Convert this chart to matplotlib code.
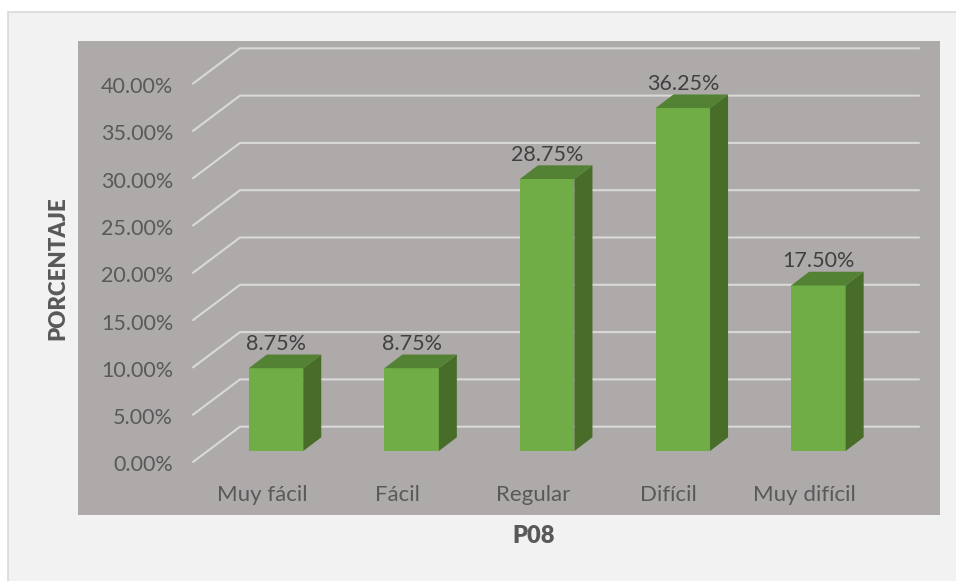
import matplotlib
matplotlib.use('Agg')
import matplotlib.pyplot as plt
from matplotlib.patches import Polygon, Rectangle
from matplotlib.transforms import ScaledTranslation

categories = ['Muy fácil', 'Fácil', 'Regular', 'Difícil', 'Muy difícil']
percentages = [8.75, 8.75, 28.75, 36.25, 17.50]
y_ticks = [0, 5, 10, 15, 20, 25, 30, 35, 40]

W, H = 956, 581
PX_PER_CAT = 135.6
PX_PER_PCT = 9.46
# panel edges in pixels, from the top left
LEFT, RIGHT, TOP, BOTTOM = 78, 940, 41, 515
FIRST_BAR_X = 276
BAR_BASE_Y = 451
BAR_WIDTH = 54.5 / PX_PER_CAT
# 3d depth of the bars and of the back wall
BAR_DX, BAR_DY = 18 / PX_PER_CAT, 13.7 / PX_PER_PCT
FLOOR_X0 = (193 - FIRST_BAR_X) / PX_PER_CAT
WALL_X0 = (240 - FIRST_BAR_X) / PX_PER_CAT
WALL_X1 = (919 - FIRST_BAR_X) / PX_PER_CAT
FLOOR_DY = -11 / PX_PER_PCT
WALL_DY = 24.3 / PX_PER_PCT

plt.rcParams['font.family'] = 'Lato'

fig = plt.figure(figsize=(W / 100, H / 100), dpi=100, facecolor='white')
fig.add_artist(Rectangle((8 / W, -0.01), 1, 1.01 - 12 / H, transform=fig.transFigure,
                         facecolor='#f2f2f2', edgecolor='#d9d9d9', linewidth=1.2, zorder=-1))

ax = fig.add_axes([LEFT / W, 1 - BOTTOM / H, (RIGHT - LEFT) / W, (BOTTOM - TOP) / H])
ax.set_facecolor('#aeaaaa')
ax.set_xlim((LEFT - FIRST_BAR_X) / PX_PER_CAT, (RIGHT - FIRST_BAR_X) / PX_PER_CAT)
ax.set_ylim((BAR_BASE_Y - BOTTOM) / PX_PER_PCT, (BAR_BASE_Y - TOP) / PX_PER_PCT)
for spine in ax.spines.values():
    spine.set_visible(False)

for tick in y_ticks:
    ax.plot([FLOOR_X0, WALL_X0, WALL_X1],
            [tick + FLOOR_DY, tick + WALL_DY, tick + WALL_DY],
            color='#d9d9d9', lw=1.5, zorder=1, solid_capstyle='round')

positions = list(range(len(categories)))
for x, value in zip(positions, percentages):
    x0, x1 = x - BAR_WIDTH / 2, x + BAR_WIDTH / 2
    ax.bar(x, value, width=BAR_WIDTH, color='#70ad47', zorder=3)
    ax.add_patch(Polygon([(x1, 0), (x1 + BAR_DX, BAR_DY), (x1 + BAR_DX, value + BAR_DY), (x1, value)],
                         facecolor='#476d29', edgecolor='none', zorder=3))
    ax.add_patch(Polygon([(x0, value), (x0 + BAR_DX, value + BAR_DY), (x1 + BAR_DX, value + BAR_DY), (x1, value)],
                         facecolor='#548235', edgecolor='none', zorder=3))
    ax.annotate(f'{value:.2f}%', (x, value), xytext=(0, 17.3), textcoords='offset points',
                ha='center', va='center', fontsize=15.5, color='#404040', zorder=4)

ax.set_xticks(positions, categories)
ax.set_yticks(y_ticks, [f'{t:.2f}%' for t in y_ticks])
ax.tick_params(axis='y', length=0, labelsize=15.5, labelcolor='#595959')
ax.tick_params(axis='x', length=0, labelsize=16, labelcolor='#595959')

# the labels sit inside the panel in this chart
y_shift = ScaledTranslation(100 / 100, -12.5 / 100, fig.dpi_scale_trans)
for label in ax.get_yticklabels():
    label.set_transform(label.get_transform() + y_shift)
x_shift = ScaledTranslation(-14 / 100, 35 / 100, fig.dpi_scale_trans)
for label in ax.get_xticklabels():
    label.set_transform(label.get_transform() + x_shift)

fig.text(533.5 / W, 1 - 536 / H, 'P08', ha='center', va='center',
         fontsize=17, fontweight=800, color='#595959')
fig.text(58 / W, 1 - 268 / H, 'PORCENTAJE', ha='center', va='center', rotation=90,
         fontsize=16, fontweight=800, color='#595959')

fig.savefig('out.png', dpi=100, facecolor=fig.get_facecolor())
